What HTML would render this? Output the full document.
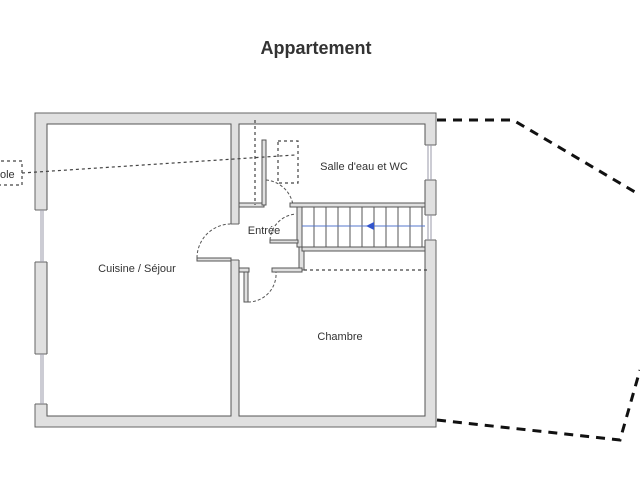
<!DOCTYPE html>
<html><head><meta charset="utf-8"><style>
html,body{margin:0;padding:0;background:#fff}
svg{display:block}
text{font-family:"Liberation Sans",sans-serif;fill:#333}
</style></head><body>
<svg width="640" height="480" viewBox="0 0 640 480" xmlns="http://www.w3.org/2000/svg">
<text x="316" y="54" font-size="18" text-anchor="middle" font-weight="bold" fill="#222">Appartement</text>
<!-- wall mass -->
<rect x="35" y="113" width="401" height="314" fill="#e0e0e0" stroke="#666"/>
<!-- rooms -->
<rect x="47" y="124" width="184" height="292" fill="#fff" stroke="#555"/>
<rect x="239" y="124" width="186" height="292" fill="#fff" stroke="#555"/>
<!-- openings -->
<g fill="#fff" stroke="none">
<rect x="34" y="210" width="14" height="52"/>
<rect x="34" y="354" width="14" height="50"/>
<rect x="424" y="145" width="13" height="35"/>
<rect x="424" y="215" width="13" height="25"/>
<rect x="230" y="224" width="10" height="36"/>
</g>
<g stroke="#666" stroke-width="1">
<line x1="35" y1="210" x2="47" y2="210"/><line x1="35" y1="262" x2="47" y2="262"/>
<line x1="35" y1="354" x2="47" y2="354"/><line x1="35" y1="404" x2="47" y2="404"/>
<line x1="425" y1="145" x2="436" y2="145"/><line x1="425" y1="180" x2="436" y2="180"/>
<line x1="425" y1="215" x2="436" y2="215"/><line x1="425" y1="240" x2="436" y2="240"/>
<line x1="231" y1="224" x2="239" y2="224"/><line x1="231" y1="260" x2="239" y2="260"/>
</g>
<!-- windows -->
<g stroke="#99a" stroke-width="1">
<line x1="41" y1="210" x2="41" y2="262"/><line x1="43" y1="210" x2="43" y2="262"/>
<line x1="41" y1="354" x2="41" y2="404"/><line x1="43" y1="354" x2="43" y2="404"/>
<line x1="428" y1="145" x2="428" y2="180"/><line x1="431" y1="145" x2="431" y2="180"/>
<line x1="428" y1="215" x2="428" y2="240"/><line x1="431" y1="215" x2="431" y2="240"/>
</g>
<g fill="#e0e0e0" stroke="#555">
<rect x="239" y="203" width="25" height="4"/>
<rect x="290" y="203" width="135" height="4"/>
<rect x="297" y="207" width="5" height="40"/>
<rect x="299" y="247" width="5" height="23"/>
<rect x="302" y="247" width="123" height="4"/>
<rect x="272" y="268" width="30" height="4"/>
<rect x="239" y="268" width="10" height="4"/>
<rect x="244" y="272" width="4" height="30"/>
<rect x="262" y="140" width="4" height="65"/>
<rect x="197" y="258" width="34" height="3"/>
<rect x="270" y="240" width="28" height="3"/>
</g>
<!-- stairs -->
<g stroke="#555" stroke-width="1">
<line x1="302" y1="207" x2="425" y2="207"/>
<line x1="302" y1="247" x2="425" y2="247"/>
<line x1="314" y1="207" x2="314" y2="247"/><line x1="326" y1="207" x2="326" y2="247"/>
<line x1="338" y1="207" x2="338" y2="247"/><line x1="350" y1="207" x2="350" y2="247"/>
<line x1="362" y1="207" x2="362" y2="247"/><line x1="374" y1="207" x2="374" y2="247"/>
<line x1="386" y1="207" x2="386" y2="247"/><line x1="398" y1="207" x2="398" y2="247"/>
<line x1="410" y1="207" x2="410" y2="247"/><line x1="422" y1="207" x2="422" y2="247"/>
</g>
<line x1="302" y1="226" x2="425" y2="226" stroke="#5577cc" stroke-width="1"/>
<polygon points="366,226 374,222 374,230" fill="#3355cc"/>
<!-- door arcs -->
<g fill="none" stroke="#555" stroke-dasharray="3,2" stroke-width="1">
<path d="M197 258 A34 34 0 0 1 231 224"/>
<path d="M248 302 A28 28 0 0 0 276 272"/>
<path d="M266 180 A30 30 0 0 1 293 205"/>
<path d="M270 240 A28 28 0 0 1 296 214"/>
</g>
<!-- dotted lines -->
<g fill="none" stroke="#444" stroke-dasharray="3,3" stroke-width="1.2">
<line x1="255" y1="120" x2="255" y2="205"/>
<rect x="278" y="141" width="20" height="42"/>
<line x1="22" y1="173" x2="295" y2="155"/>
<line x1="304" y1="270" x2="428" y2="270"/>
<path d="M-5 161 H22 V185 H-5"/>
</g>
<text x="0" y="178" font-size="11">ole</text>
<!-- outer dashed outline -->
<g fill="none" stroke="#111" stroke-width="3" stroke-dasharray="9,7">
<path d="M437 120 H513 L640 195"/>
<path d="M437 420 L620 440 L640 370"/>
</g>
<text x="137" y="272" font-size="11" text-anchor="middle">Cuisine / Séjour</text>
<text x="364" y="170" font-size="11" text-anchor="middle">Salle d'eau et WC</text>
<text x="264" y="234" font-size="11" text-anchor="middle">Entrée</text>
<text x="340" y="340" font-size="11" text-anchor="middle">Chambre</text>
</svg>
</body></html>
